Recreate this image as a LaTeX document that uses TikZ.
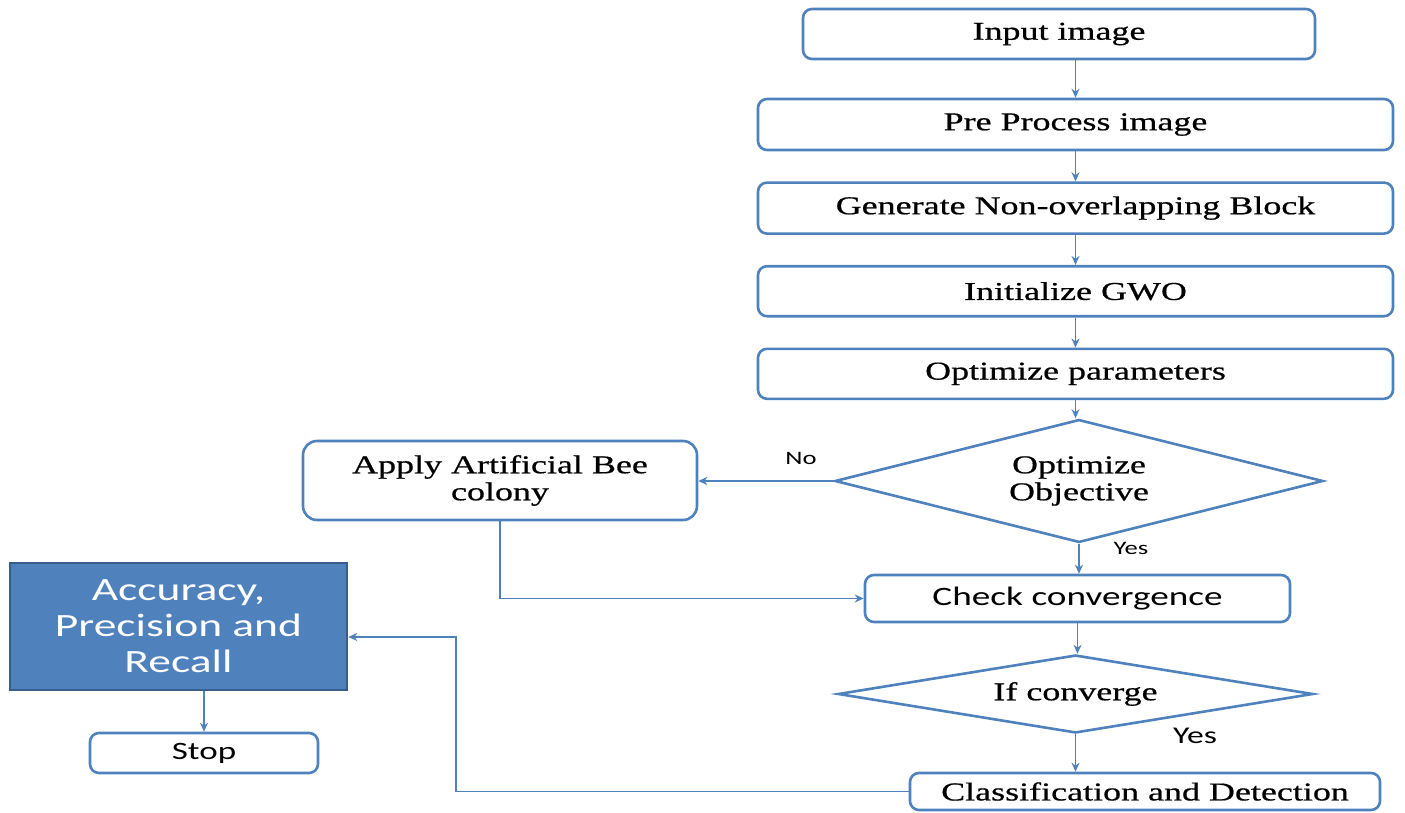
\documentclass[tikz,border=0pt]{standalone}
\usepackage{fontspec}
\setmainfont{Liberation Serif}[FakeStretch=1.40, FakeBold=0.6]
\setsansfont{Carlito}[FakeStretch=1.4]
\usepackage{tikz}
\usetikzlibrary{arrows.meta, positioning, shapes.geometric}
\definecolor{flowblue}{HTML}{4F81BD}
\definecolor{flowdark}{HTML}{385D8A}

\begin{document}
\begin{tikzpicture}[x=1pt, y=-1pt,
      box/.style={draw=flowblue, line width=2.6pt, rounded corners=9pt, minimum width=635pt, minimum height=50pt, inner sep=0pt, align=center, font=\fontsize{25.7}{27}\selectfont},
      decision/.style={diamond, draw=flowblue, line width=2.6pt, inner sep=0pt, align=center, font=\fontsize{25.7}{27}\selectfont},
      result_box/.style={draw=flowdark, line width=2.6pt, fill=flowblue, text=white, align=center, inner sep=0pt, font=\sffamily\fontsize{32.5}{36}\selectfont},
      arrow/.style={-{Stealth[length=9pt, width=8pt]}, draw=flowblue, line width=1.8pt},
      small_label/.style={font=\sffamily\fontsize{19}{20}\selectfont}
    ]
      \useasboundingbox (0,0) rectangle (1405,813);

      % Main column
      \node[box, minimum width=512pt] (input) at (1059,34) {Input image};
      \node[box, minimum height=51pt] (pre) at (1075.5,124.5) {Pre Process image};
      \node[box, minimum height=51pt, below=30pt of pre] (gen) {Generate Non-overlapping Block};
      \node[box, below=30pt of gen] (init) {Initialize GWO};
      \node[box, below=30pt of init] (opt_par) {Optimize parameters};

      % First decision
      \node[decision, aspect=4, minimum width=488pt, minimum height=123pt] (opt_obj) at (1079,481) {Optimize\\Objective};

      % Bee colony branch
      \node[box, rounded corners=14pt, minimum width=394pt, minimum height=79pt] (abc) at (500,480.5) {Apply Artificial Bee\\colony};

      % Convergence check
      \node[box, minimum width=425pt, minimum height=47pt, font=\sffamily\fontsize{26.6}{28}\selectfont] (check) at (1077.5,598.5) {Check convergence};
      \node[decision, aspect=6, minimum width=475pt, minimum height=78pt] (if_conv) at (1075.5,694) {If converge};
      \node[box, minimum width=470pt, minimum height=37pt] (classif) at (1145,791.5) {Classification and Detection};

      % Results
      \node[result_box, minimum width=337pt, minimum height=127pt] (acc) at (178.5,626.5) {Accuracy,\\Precision and\\Recall};
      \node[box, minimum width=228pt, minimum height=40pt, font=\sffamily\fontsize{25}{26}\selectfont] (stop) at (204,753) {Stop};

      % Branch labels
      \node[small_label] (no_label) at (801,458) {No};
      \node[small_label] (yes_a) at (1131,548) {Yes};
      \node[small_label, font=\sffamily\fontsize{24}{25}\selectfont] (yes_b) at (1195,736) {Yes};

      % Arrows
      \draw[arrow] (input.south -| pre.north) -- (pre.north);
      \draw[arrow] (pre) -- (gen);
      \draw[arrow] (gen) -- (init);
      \draw[arrow] (init) -- (opt_par);
      \draw[arrow] (opt_par.south) -- (opt_par.south |- opt_obj.north);

      \draw[arrow] (opt_obj.west) -- (opt_obj.west -| abc.east);
      \draw[arrow] (opt_obj.south) -- (opt_obj.south |- check.north);
      \draw[arrow] (abc.south) |- (check.west);

      \draw[arrow] (check.south) -- (check.south |- if_conv.north);
      \draw[arrow] (if_conv.south) -- (if_conv.south |- classif.north);

      % Back to the results box
      \coordinate (back_turn) at (456,637);
      \draw[arrow] (classif.west) -| (back_turn) -- (back_turn -| acc.east);
      \draw[arrow] (acc.south -| stop.north) -- (stop.north);
    \end{tikzpicture}
\end{document}
